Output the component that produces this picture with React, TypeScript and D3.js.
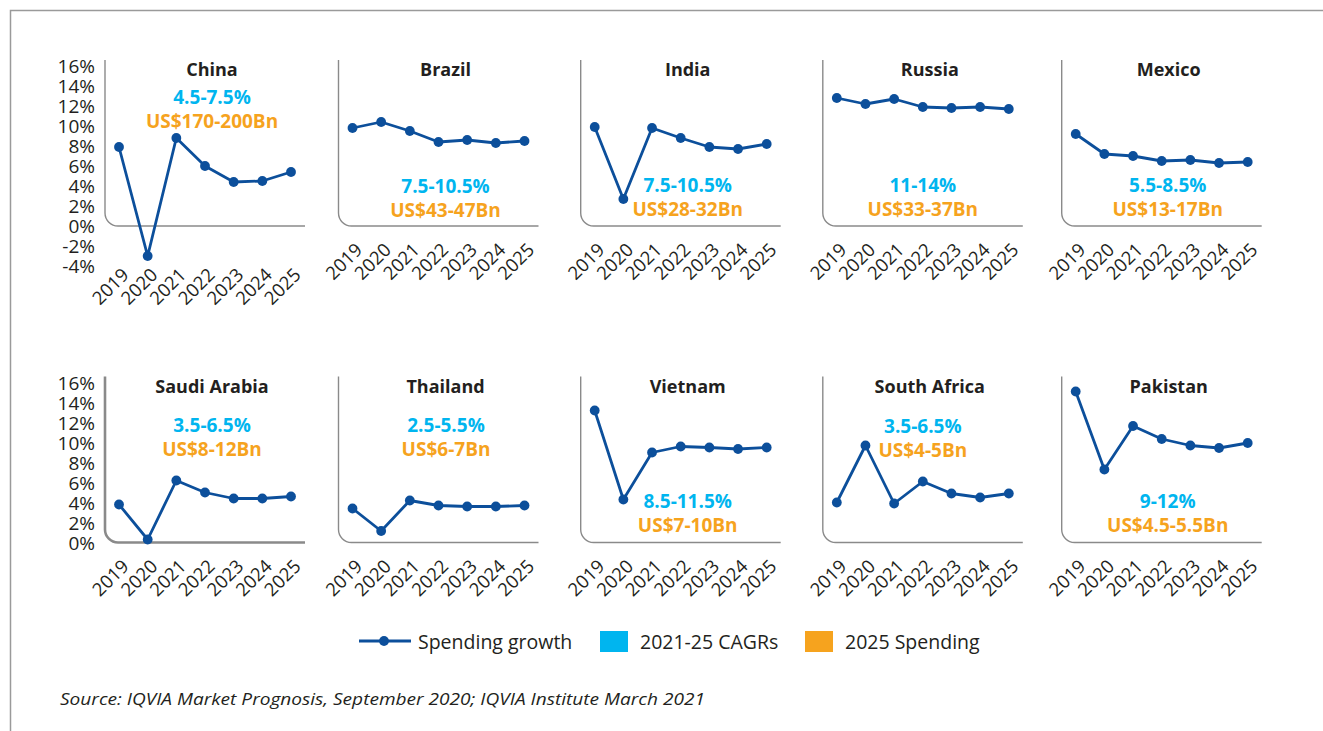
import React from 'react';
import * as d3 from 'd3';

const years = ['2019', '2020', '2021', '2022', '2023', '2024', '2025'];
const countries = ['China', 'Brazil', 'India', 'Russia', 'Mexico', 'Saudi Arabia', 'Thailand', 'Vietnam', 'South Africa', 'Pakistan'];

const chinaGrowth = [7.9, -3.0, 8.8, 6.0, 4.4, 4.5, 5.4];
const brazilGrowth = [9.8, 10.4, 9.5, 8.4, 8.6, 8.3, 8.5];
const indiaGrowth = [9.9, 2.7, 9.8, 8.8, 7.9, 7.7, 8.2];
const russiaGrowth = [12.8, 12.2, 12.7, 11.9, 11.8, 11.9, 11.7];
const mexicoGrowth = [9.2, 7.2, 7.0, 6.5, 6.6, 6.3, 6.4];
const saudiGrowth = [3.8, 0.3, 6.2, 5.0, 4.4, 4.4, 4.6];
const thailandGrowth = [3.4, 1.15, 4.2, 3.7, 3.6, 3.6, 3.7];
const vietnamGrowth = [13.2, 4.3, 9.0, 9.6, 9.5, 9.35, 9.5];
const southAfricaGrowth = [4.0, 9.7, 3.9, 6.1, 4.9, 4.5, 4.9];
const pakistanGrowth = [15.1, 7.3, 11.65, 10.35, 9.7, 9.45, 9.95];

const growthSeries = [chinaGrowth, brazilGrowth, indiaGrowth, russiaGrowth, mexicoGrowth, saudiGrowth, thailandGrowth, vietnamGrowth, southAfricaGrowth, pakistanGrowth];

const cagrLabels = ['4.5-7.5%', '7.5-10.5%', '7.5-10.5%', '11-14%', '5.5-8.5%', '3.5-6.5%', '2.5-5.5%', '8.5-11.5%', '3.5-6.5%', '9-12%'];
const spendingLabels = ['US$170-200Bn', 'US$43-47Bn', 'US$28-32Bn', 'US$33-37Bn', 'US$13-17Bn', 'US$8-12Bn', 'US$6-7Bn', 'US$7-10Bn', 'US$4-5Bn', 'US$4.5-5.5Bn'];

const topRowTicks = [-4, -2, 0, 2, 4, 6, 8, 10, 12, 14, 16];
const bottomRowTicks = [0, 2, 4, 6, 8, 10, 12, 14, 16];

const legendLabels = ['Spending growth', '2021-25 CAGRs', '2025 Spending'];
const sourceText = 'Source: IQVIA Market Prognosis, September 2020; IQVIA Institute March 2021';

// layout (not data)
const colX = [105, 338.5, 580.7, 822.8, 1061.7];
const rowBase = [226, 542.5];
const labelAnchorPct = [12.9, 4.0, 4.1, 4.1, 4.1, 11.75, 11.75, 4.15, 11.7, 4.15];
const labelDx = [107, 107, 107, 100, 106, 107, 107.5, 107, 100, 106];

const LINE = '#0c4f9b';
const FRAME = '#8a8a8a';
const TEXT = '#231f20';
const CYAN = '#00b5ef';
const ORANGE = '#f6a31e';
const FONT = "'Open Sans', 'Noto Sans', sans-serif";

function Panel({ idx }: { idx: number }) {
  const row = idx < 5 ? 0 : 1;
  const col = idx % 5;
  const ax = colX[col];
  const base = rowBase[row];
  const y = d3.scaleLinear().domain([0, 16]).range([base, base - 160]);
  const x = d3.scalePoint<string>().domain(years).range([ax + 14, ax + 186]);
  const data = growthSeries[idx];
  const line = d3.line<number>().x((_, i) => x(years[i]) as number).y((d) => y(d));
  const r = 13;
  const framePath = `M${ax},${y(16.6)} V${base - r} A${r},${r} 0 0 0 ${ax + r},${base} H${ax + 200}`;
  const ticks = row === 0 ? topRowTicks : bottomRowTicks;
  const hasNeg = idx === 0;
  const labelTop = hasNeg ? y(-3.9) : base + 14;
  const cx = ax + labelDx[idx];
  return (
    <g>
      <path d={framePath} fill="none" stroke={FRAME} strokeWidth={idx === 5 ? 2.6 : 1.4} />
      {col === 0 && ticks.map((t) => (
        <text key={t} x={95} y={y(t)} textAnchor="end" dominantBaseline="central" fontSize={19} fill={TEXT} fontFamily={FONT}>
          {`${t}%`}
        </text>
      ))}
      {years.map((yr) => {
        const px = (x(yr) as number) + 11;
        const py = labelTop + 11;
        return (
          <text key={yr} transform={`translate(${px},${py}) rotate(-45)`} textAnchor="end" fontSize={18.5} fill={TEXT} fontFamily={FONT}>
            {yr}
          </text>
        );
      })}
      <text x={ax + 107} y={y(15.7)} textAnchor="middle" dominantBaseline="central" fontSize={18} fontWeight={700} fill={TEXT} fontFamily={FONT}>
        {countries[idx]}
      </text>
      <text x={cx} y={y(labelAnchorPct[idx])} textAnchor="middle" dominantBaseline="central" fontSize={19} fontWeight={700} fill={CYAN} fontFamily={FONT}>
        {cagrLabels[idx]}
      </text>
      <text x={cx} y={y(labelAnchorPct[idx] - 2.4)} textAnchor="middle" dominantBaseline="central" fontSize={19} fontWeight={700} fill={ORANGE} fontFamily={FONT}>
        {spendingLabels[idx]}
      </text>
      <path d={line(data) || ''} fill="none" stroke={LINE} strokeWidth={2.8} strokeLinejoin="round" />
      {data.map((d, i) => (
        <circle key={i} cx={x(years[i]) as number} cy={y(d)} r={4.9} fill={LINE} />
      ))}
    </g>
  );
}

function Legend() {
  const ly = 641;
  return (
    <g fontFamily={FONT} fontSize={19.5} fill={TEXT}>
      <line x1={359} x2={411} y1={ly} y2={ly} stroke={LINE} strokeWidth={2.8} />
      <circle cx={384} cy={ly} r={4.9} fill={LINE} />
      <text x={418} y={ly} dominantBaseline="central">{legendLabels[0]}</text>
      <rect x={600} y={ly - 10} width={28} height={21} fill={CYAN} />
      <text x={640} y={ly} dominantBaseline="central">{legendLabels[1]}</text>
      <rect x={805} y={ly - 10} width={28} height={21} fill={ORANGE} />
      <text x={845} y={ly} dominantBaseline="central">{legendLabels[2]}</text>
    </g>
  );
}

export default function App() {
  return (
    <svg width={1323} height={731} style={{ position: 'absolute', left: 0, top: 0, background: '#fff' }}>
      <rect x={0} y={0} width={1323} height={731} fill="#fff" />
      <path d="M10.5,731 V10.5 H1323" fill="none" stroke="#9a9a9a" strokeWidth={1.5} />
      {countries.map((_, i) => (
        <Panel key={i} idx={i} />
      ))}
      <Legend />
      <text x={60} y={705} fontFamily={FONT} fontStyle="italic" fontSize={17} fill={TEXT} textLength={645} lengthAdjust="spacingAndGlyphs">
        {sourceText}
      </text>
    </svg>
  );
}
